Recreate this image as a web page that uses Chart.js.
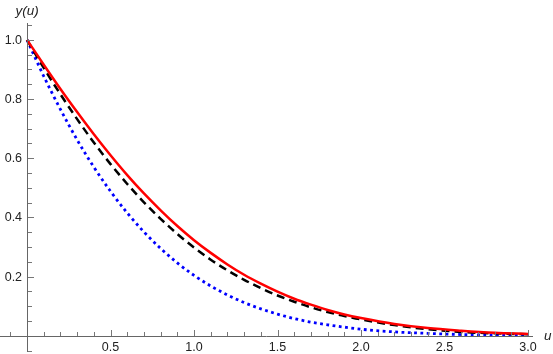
<!DOCTYPE html>
<html>
<head>
<meta charset="utf-8">
<script src="https://cdn.jsdelivr.net/npm/chart.js@4/dist/chart.umd.min.js"></script>
<style>
html,body{margin:0;padding:0;background:#fff;}
#wrap{width:553px;height:354px;position:relative;}
</style>
</head>
<body>
<div id="wrap"><canvas id="c" width="553" height="354"></canvas></div>
<script>
// u values (sample positions)
const uValues = [0,0.1,0.2,0.3,0.4,0.5,0.6,0.7,0.8,0.9,1.0,1.1,1.2,1.3,1.4,1.5,1.6,1.7,1.8,1.9,2.0,2.2,2.4,2.6,2.8,3.0];
// red solid curve
const redValues = [1,0.916,0.834,0.756,0.681,0.610,0.543,0.481,0.424,0.371,0.323,0.280,0.241,0.206,0.176,0.149,0.125,0.105,0.087,0.072,0.060,0.040,0.026,0.017,0.010,0.006];
// black dashed curve
const blackValues = [1,0.905,0.816,0.732,0.653,0.580,0.513,0.451,0.395,0.344,0.298,0.257,0.221,0.189,0.161,0.136,0.115,0.096,0.080,0.067,0.055,0.036,0.022,0.013,0.008,0.005];
// blue dotted curve
const blueValues = [1,0.877,0.765,0.662,0.570,0.488,0.415,0.351,0.295,0.246,0.204,0.168,0.138,0.112,0.091,0.073,0.058,0.046,0.037,0.029,0.022,0.013,0.008,0.004,0.002,0.001];
// tick labels
const xTickLabels = ['0.5','1.0','1.5','2.0','2.5','3.0'];
const yTickLabels = ['0.2','0.4','0.6','0.8','1.0'];
const xAxisTitle = 'u';
const yAxisTitle = 'y(u)';

const pts = arr => uValues.map((u,i)=>({x:u,y:arr[i]}));

const FONT = '"Liberation Sans", Arial, sans-serif';
const axesPlugin = {
  id:'mmaAxes',
  afterDatasetsDraw(chart){
    const ctx = chart.ctx, xs = chart.scales.x, ys = chart.scales.y;
    const x0 = xs.getPixelForValue(0), y0 = ys.getPixelForValue(0);
    ctx.save();
    // axis lines
    ctx.strokeStyle = '#666';
    ctx.lineWidth = 1;
    ctx.beginPath();
    ctx.moveTo(xs.left, Math.round(y0)+0.5); ctx.lineTo(xs.right, Math.round(y0)+0.5);
    ctx.moveTo(Math.round(x0)+0.5, ys.top); ctx.lineTo(Math.round(x0)+0.5, ys.bottom);
    ctx.stroke();
    // x ticks every 0.1, major every 0.5
    ctx.strokeStyle = '#777';
    ctx.beginPath();
    for (let k=-1; k<=30; k++){
      if (k===0) continue;
      const v = k/10, px = Math.round(xs.getPixelForValue(v))+0.5;
      const len = (k%5===0) ? 6 : 4;
      ctx.moveTo(px, Math.round(y0)); ctx.lineTo(px, Math.round(y0)-len);
    }
    // y ticks every 0.05, major every 0.2
    for (let k=-1; k<=21; k++){
      if (k===0) continue;
      const v = k*0.05, py = Math.round(ys.getPixelForValue(v))+0.5;
      const len = (k%4===0) ? 6 : 4;
      ctx.moveTo(Math.round(x0)+1, py); ctx.lineTo(Math.round(x0)+1+len, py);
    }
    ctx.stroke();
    // tick labels
    ctx.fillStyle = '#222';
    ctx.font = '12.5px ' + FONT;
    ctx.textAlign = 'center'; ctx.textBaseline = 'top';
    xTickLabels.forEach(t=>{
      const px = xs.getPixelForValue(parseFloat(t));
      ctx.fillText(t, px, y0+6);
    });
    ctx.textAlign = 'right'; ctx.textBaseline = 'middle';
    yTickLabels.forEach(t=>{
      const py = ys.getPixelForValue(parseFloat(t));
      ctx.fillText(t, x0-5, py+0.5);
    });
    // axis titles
    ctx.font = 'italic 13.5px ' + FONT;
    ctx.textAlign = 'center'; ctx.textBaseline = 'middle';
    ctx.fillText(yAxisTitle, x0, 11);
    ctx.textAlign = 'left';
    ctx.fillText(xAxisTitle, 544, y0+1);
    ctx.restore();
  }
};

new Chart(document.getElementById('c'), {
  type:'line',
  data:{
    datasets:[
      {data:pts(redValues), borderColor:'#ff0000', borderWidth:2.5, pointRadius:0, fill:false, cubicInterpolationMode:'monotone'},
      {data:pts(blackValues), borderColor:'#000000', borderWidth:2.5, borderDash:[8,5], pointRadius:0, fill:false, cubicInterpolationMode:'monotone'},
      {data:pts(blueValues), borderColor:'#0000ff', borderWidth:2.8, borderDash:[2.8,3.5], pointRadius:0, fill:false, cubicInterpolationMode:'monotone'}
    ]
  },
  options:{
    responsive:false,
    animation:false,
    events:[],
    layout:{padding:{left:0,right:20,top:23,bottom:2}},
    plugins:{legend:{display:false}, tooltip:{enabled:false}},
    scales:{
      x:{type:'linear', min:-0.162, max:3.03, display:false},
      y:{type:'linear', min:-0.055, max:1.057, display:false}
    }
  },
  plugins:[axesPlugin]
});
</script>
</body>
</html>
